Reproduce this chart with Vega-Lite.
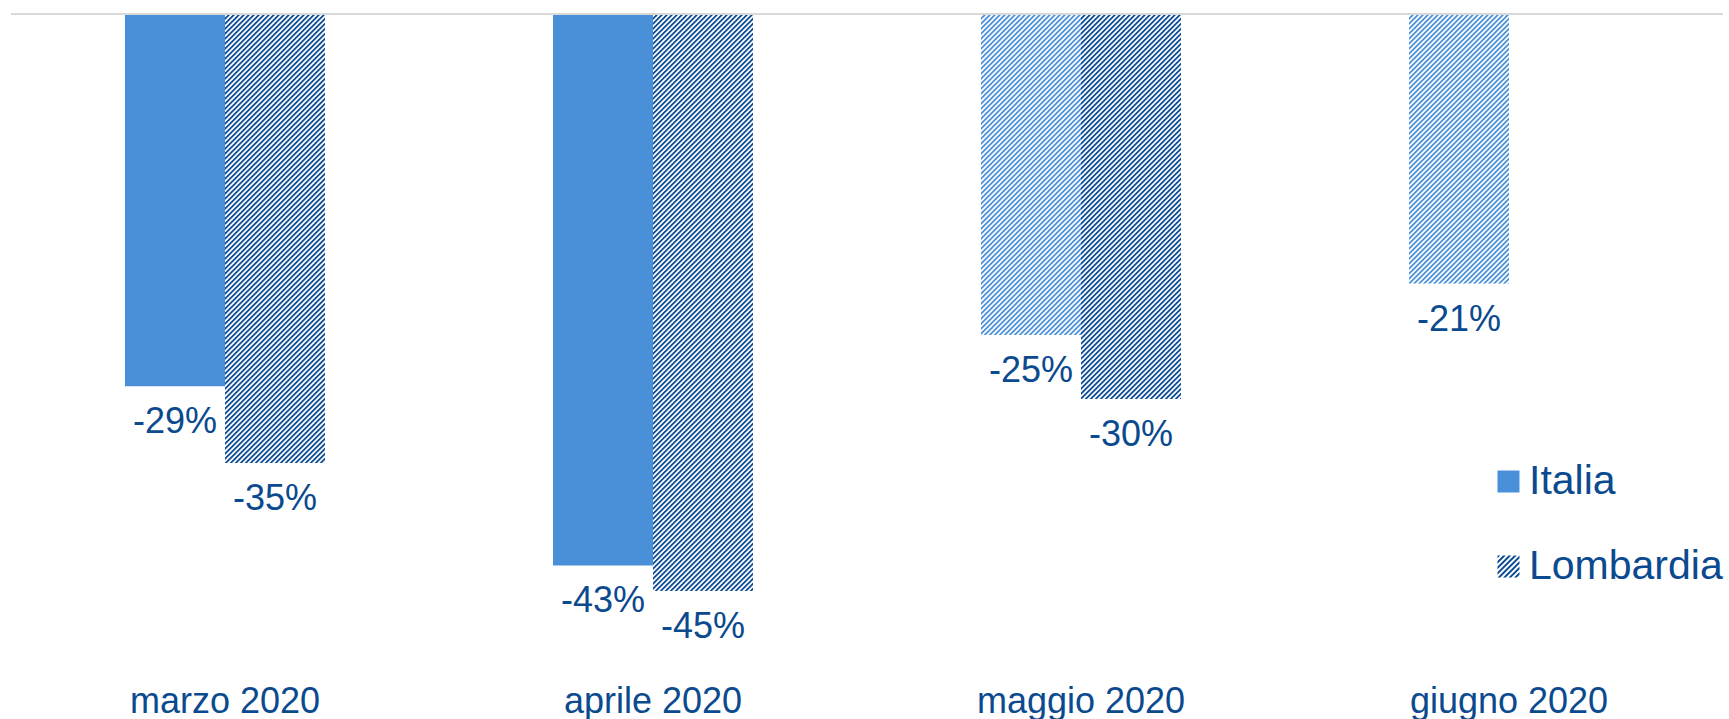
{
  "$schema": "https://vega.github.io/schema/vega-lite/v6.json",
  "width": 1712,
  "height": 640,
  "autosize": {"type": "none"},
  "padding": {"left": 11, "top": 15, "right": 6, "bottom": 64},
  "background": "#ffffff",
  "config": {"view": {"stroke": null}, "font": "Liberation Sans"},
  "data": {
    "values": [
      {"mese": "marzo 2020", "serie": "Italia", "valore": -29},
      {"mese": "marzo 2020", "serie": "Lombardia", "valore": -35},
      {"mese": "aprile 2020", "serie": "Italia", "valore": -43},
      {"mese": "aprile 2020", "serie": "Lombardia", "valore": -45},
      {"mese": "maggio 2020", "serie": "Italia", "valore": -25},
      {"mese": "maggio 2020", "serie": "Lombardia", "valore": -30},
      {"mese": "giugno 2020", "serie": "Italia", "valore": -21}
    ]
  },
  "transform": [{"calculate": "datum.valore + '%'", "as": "etichetta"}],
  "layer": [
    {
      "encoding": {
        "x": {
          "field": "mese", "type": "nominal",
          "sort": ["marzo 2020", "aprile 2020", "maggio 2020", "giugno 2020"],
          "scale": {"paddingInner": 0.53271028, "paddingOuter": 0.26635514},
          "axis": {"title": null, "domain": false, "ticks": false, "tickSize": 0, "labelPadding": 29, "labelFontSize": 36, "labelColor": "#0b4a8e", "labelFont": "Liberation Sans", "labelAngle": 0, "labelLimit": 600, "grid": false}
        },
        "xOffset": {
          "field": "serie", "type": "nominal", "sort": ["Italia", "Lombardia"],
          "scale": {"domain": ["Italia", "Lombardia"], "paddingInner": 0, "paddingOuter": 0}
        }
      },
      "layer": [
        {
          "mark": {"type": "bar"},
          "encoding": {
            "y": {"field": "valore", "type": "quantitative", "scale": {"domain": [-50, 0], "nice": false}, "axis": null},
            "fill": {
              "field": "serie", "type": "nominal",
              "scale": {"domain": ["Italia", "Lombardia"], "range": ["#4a90d9", "#0a4a94"]},
              "legend": {
                "title": null, "orient": "none", "legendX": 1477, "legendY": 446,
                "symbolSize": 484, "symbolStrokeWidth": 0, "symbolOpacity": 1,
                "labelFontSize": 41, "labelColor": "#0b4a8e", "labelFont": "Liberation Sans", "labelLimit": 600,
                "rowPadding": 43, "labelOffset": 0, "padding": 0
              }
            }
          }
        },
        {
          "transform": [{"filter": "datum.serie === 'Lombardia' || datum.mese === 'maggio 2020' || datum.mese === 'giugno 2020'"}],
          "encoding": {
            "fill": {"value": "#ffffff"},
            "size": {"value": 10000},
            "shape": {"value": "M-1,-1L-1,-1L-0.95,-1L-1,-0.95ZM-1,-0.9L-0.9,-1L-0.85,-1L-1,-0.85ZM-1,-0.8L-0.8,-1L-0.75,-1L-1,-0.75ZM-1,-0.7L-0.7,-1L-0.65,-1L-1,-0.65ZM-1,-0.6L-0.6,-1L-0.55,-1L-1,-0.55ZM-1,-0.5L-0.5,-1L-0.45,-1L-1,-0.45ZM-1,-0.4L-0.4,-1L-0.35,-1L-1,-0.35ZM-1,-0.3L-0.3,-1L-0.25,-1L-1,-0.25ZM-1,-0.2L-0.2,-1L-0.15,-1L-1,-0.15ZM-1,-0.1L-0.1,-1L-0.05,-1L-1,-0.05ZM-1,0L0,-1L0.05,-1L-1,0.05ZM-1,0.1L0.1,-1L0.15,-1L-1,0.15ZM-1,0.2L0.2,-1L0.25,-1L-1,0.25ZM-1,0.3L0.3,-1L0.35,-1L-1,0.35ZM-1,0.4L0.4,-1L0.45,-1L-1,0.45ZM-1,0.5L0.5,-1L0.55,-1L-1,0.55ZM-1,0.6L0.6,-1L0.65,-1L-1,0.65ZM-1,0.7L0.7,-1L0.75,-1L-1,0.75ZM-1,0.8L0.8,-1L0.85,-1L-1,0.85ZM-1,0.9L0.9,-1L0.95,-1L-1,0.95ZM-1,1L1,-1L1,-0.95L-0.95,1ZM-0.9,1L1,-0.9L1,-0.85L-0.85,1ZM-0.8,1L1,-0.8L1,-0.75L-0.75,1ZM-0.7,1L1,-0.7L1,-0.65L-0.65,1ZM-0.6,1L1,-0.6L1,-0.55L-0.55,1ZM-0.5,1L1,-0.5L1,-0.45L-0.45,1ZM-0.4,1L1,-0.4L1,-0.35L-0.35,1ZM-0.3,1L1,-0.3L1,-0.25L-0.25,1ZM-0.2,1L1,-0.2L1,-0.15L-0.15,1ZM-0.1,1L1,-0.1L1,-0.05L-0.05,1ZM0,1L1,0L1,0.05L0.05,1ZM0.1,1L1,0.1L1,0.15L0.15,1ZM0.2,1L1,0.2L1,0.25L0.25,1ZM0.3,1L1,0.3L1,0.35L0.35,1ZM0.4,1L1,0.4L1,0.45L0.45,1ZM0.5,1L1,0.5L1,0.55L0.55,1ZM0.6,1L1,0.6L1,0.65L0.65,1ZM0.7,1L1,0.7L1,0.75L0.75,1ZM0.8,1L1,0.8L1,0.85L0.85,1ZM0.9,1L1,0.9L1,0.95L0.95,1Z"}
          },
          "layer": [
            {"mark": {"type": "point", "filled": true, "opacity": 1, "strokeWidth": 0}, "encoding": {"y": {"datum": -3.90625, "axis": null}}},
            {"mark": {"type": "point", "filled": true, "opacity": 1, "strokeWidth": 0}, "encoding": {"y": {"datum": -11.71875, "axis": null}}},
            {"mark": {"type": "point", "filled": true, "opacity": 1, "strokeWidth": 0}, "encoding": {"y": {"datum": -19.53125, "axis": null}}},
            {"mark": {"type": "point", "filled": true, "opacity": 1, "strokeWidth": 0}, "encoding": {"y": {"datum": -27.34375, "axis": null}}},
            {"mark": {"type": "point", "filled": true, "opacity": 1, "strokeWidth": 0}, "encoding": {"y": {"datum": -35.15625, "axis": null}}},
            {"mark": {"type": "point", "filled": true, "opacity": 1, "strokeWidth": 0}, "encoding": {"y": {"datum": -42.96875, "axis": null}}}
          ]
        },
        {
          "transform": [{"filter": "datum.serie === 'Lombardia' || datum.mese === 'maggio 2020' || datum.mese === 'giugno 2020'"}],
          "mark": {"type": "bar", "fill": "#ffffff"},
          "encoding": {
            "y": {"field": "valore", "type": "quantitative", "axis": null},
            "y2": {"datum": -50}
          }
        },
        {
          "transform": [{"filter": "false"}],
          "mark": {"type": "point", "filled": true, "opacity": 1, "strokeWidth": 0},
          "encoding": {
            "y": {"field": "valore", "type": "quantitative", "axis": null},
            "fill": {
              "field": "serie", "type": "nominal",
              "scale": {"domain": ["Italia", "Lombardia"], "range": ["#4a90d9", "#0a4a94"]},
              "legend": {
                "title": null, "orient": "none", "legendX": 1477, "legendY": 446,
                "symbolSize": 484, "symbolStrokeWidth": 0, "symbolOpacity": 1,
                "labelFontSize": 41, "labelColor": "#0b4a8e", "labelFont": "Liberation Sans", "labelLimit": 600,
                "rowPadding": 43, "labelOffset": 0, "padding": 0
              }
            },
            "shape": {
              "field": "serie", "type": "nominal",
              "scale": {"domain": ["Italia", "Lombardia"], "range": ["square", "M-1,-1L-0.75,-1L-1,-0.75ZM-1,-0.5L-0.5,-1L-0.25,-1L-1,-0.25ZM-1,0L0,-1L0.25,-1L-1,0.25ZM-1,0.5L0.5,-1L0.75,-1L-1,0.75ZM-1,1L1,-1L1,-0.75L-0.75,1ZM-0.5,1L1,-0.5L1,-0.25L-0.25,1ZM0,1L1,0L1,0.25L0.25,1ZM0.5,1L1,0.5L1,0.75L0.75,1Z"]},
              "legend": {
                "title": null, "orient": "none", "legendX": 1477, "legendY": 446,
                "symbolSize": 484, "symbolStrokeWidth": 0, "symbolOpacity": 1,
                "labelFontSize": 41, "labelColor": "#0b4a8e", "labelFont": "Liberation Sans", "labelLimit": 600,
                "rowPadding": 43, "labelOffset": 0, "padding": 0
              }
            }
          }
        },
        {
          "mark": {"type": "text", "align": "center", "baseline": "alphabetic", "dy": 47, "fontSize": 36, "font": "Liberation Sans", "fill": "#0b4a8e"},
          "encoding": {
            "y": {"field": "valore", "type": "quantitative", "axis": null},
            "text": {"field": "etichetta", "type": "nominal"}
          }
        }
      ]
    },
    {
      "mark": {"type": "rule", "color": "#d9d9d9", "strokeWidth": 2, "yOffset": -1},
      "encoding": {"y": {"datum": 0, "axis": null}}
    }
  ]
}
